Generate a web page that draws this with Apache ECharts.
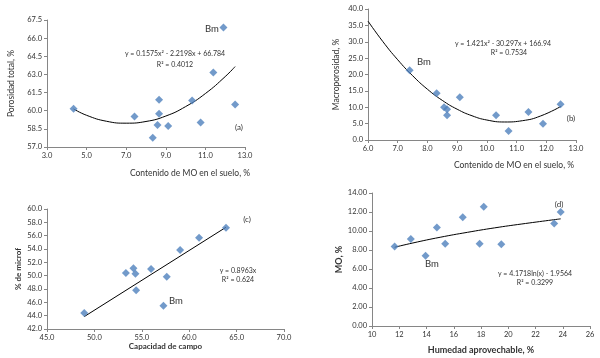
<!DOCTYPE html>
<html>
<head>
<meta charset="utf-8">
<script src="https://cdn.jsdelivr.net/npm/echarts@6/dist/echarts.min.js"></script>
<style>
html,body{margin:0;padding:0;background:#fff;}
#c{width:600px;height:358px;}
</style>
</head>
<body>
<div id="c"></div>
<script>
// Panel (a): Porosidad total vs MO
const aX = [4.34, 7.42, 8.34, 8.58, 8.66, 8.66, 9.12, 10.33, 10.76, 11.40, 11.91, 12.50];
const aY = [60.16, 59.53, 57.77, 58.81, 59.75, 60.90, 58.73, 60.85, 59.03, 63.15, 66.89, 60.52];
const aTrendX = [4.34, 5.0, 6.0, 7.0, 8.0, 9.0, 10.0, 11.0, 12.0, 12.5];
const aTrendY = [60.15, 59.62, 59.13, 58.97, 59.11, 59.56, 60.34, 61.42, 62.82, 63.65];

// Panel (b): Macroporosidad vs MO
const bX = [7.40, 8.31, 8.56, 8.66, 8.66, 9.09, 10.31, 10.73, 11.40, 11.89, 12.48];
const bY = [21.3, 14.3, 10.0, 9.4, 7.55, 13.06, 7.55, 2.76, 8.57, 5.0, 10.9];
const bTrendX = [6.0, 6.5, 7.0, 7.5, 8.0, 8.5, 9.0, 9.5, 10.0, 10.6, 11.2, 11.8, 12.5];
const bTrendY = [36.3, 30.05, 24.5, 19.65, 15.5, 12.1, 9.4, 7.4, 6.1, 5.5, 5.9, 7.3, 10.3];

// Panel (c): % de microf vs Capacidad de campo
const cX = [48.93, 53.32, 54.12, 54.33, 54.40, 55.98, 57.28, 57.63, 59.04, 61.04, 63.88];
const cY = [44.4, 50.4, 51.1, 50.3, 47.8, 51.0, 45.5, 49.85, 53.85, 55.7, 57.2];
const cTrendX = [48.93, 63.88];
const cTrendY = [43.86, 57.26];

// Panel (d): MO vs Humedad aprovechable
const dX = [11.66, 12.85, 13.93, 14.76, 15.37, 16.66, 17.90, 18.20, 19.49, 23.37, 23.85];
const dY = [8.36, 9.17, 7.40, 10.37, 8.67, 11.46, 8.67, 12.55, 8.60, 10.79, 11.99];
const dTrendX = [11.66, 13.0, 15.0, 17.0, 19.0, 21.0, 23.85];
const dTrendY = [8.29, 8.74, 9.34, 9.86, 10.33, 10.74, 11.28];

// Axis ranges / tick steps
const aXAxis = {min: 3, max: 13, step: 2, dec: 1};
const aYAxis = {min: 57, max: 67.5, step: 1.5, dec: 1};
const bXAxis = {min: 6, max: 13, step: 1, dec: 1};
const bYAxis = {min: 0, max: 40, step: 5, dec: 1};
const cXAxis = {min: 45, max: 70, step: 5, dec: 1};
const cYAxis = {min: 42, max: 60, step: 2, dec: 1};
const dXAxis = {min: 10, max: 26, step: 2, dec: 0};
const dYAxis = {min: 0, max: 14, step: 2, dec: 2};

const FONT = 'Lato, "Liberation Sans", sans-serif';
const TXT = '#333333';
const AXC = '#868686';
const BLUE = '#4F81BD';

function zip(xs, ys){ return xs.map((x,i)=>[x, ys[i]]); }

function mkAxis(type, gi, r, name, opts){
  return Object.assign({
    type: 'value', gridIndex: gi, min: r.min, max: r.max, interval: r.step,
    name: name, nameLocation: 'middle',
    axisLine: {show: true, onZero: false, lineStyle: {color: AXC, width: 1}},
    axisTick: {show: true, inside: false, length: 3, lineStyle: {color: AXC}},
    splitLine: {show: false},
    axisLabel: {fontFamily: FONT, fontSize: 7.5, color: TXT,
      formatter: v => v.toFixed(r.dec), margin: type === 'x' ? 5 : 5},
    nameTextStyle: {fontFamily: FONT, fontSize: 8.5, color: TXT}
  }, opts || {});
}

const grids = [
  {left: 47, top: 20, width: 198, height: 127},
  {left: 368, top: 9, width: 208, height: 131},
  {left: 47, top: 209, width: 237, height: 120},
  {left: 372, top: 193, width: 218, height: 133}
];

const xAxes = [
  mkAxis('x', 0, aXAxis, 'Contenido de MO en el suelo, %', {nameGap: 22,
    nameTextStyle: {fontFamily: FONT, fontSize: 8.5, color: TXT, padding: [0,0,0,88]}}),
  mkAxis('x', 1, bXAxis, 'Contenido de MO en el suelo, %', {nameGap: 21,
    nameTextStyle: {fontFamily: FONT, fontSize: 8.5, color: TXT, padding: [0,0,0,84]}}),
  mkAxis('x', 2, cXAxis, 'Capacidad de campo', {nameGap: 12,
    nameTextStyle: {fontFamily: FONT, fontSize: 8, fontWeight: 'bold', color: TXT}}),
  mkAxis('x', 3, dXAxis, 'Humedad aprovechable, %', {nameGap: 20,
    nameTextStyle: {fontFamily: FONT, fontSize: 9, fontWeight: 'bold', color: TXT}})
];
const yAxes = [
  mkAxis('y', 0, aYAxis, 'Porosidad total, %', {nameGap: 31}),
  mkAxis('y', 1, bYAxis, 'Macroporosidad, %', {nameGap: 27}),
  mkAxis('y', 2, cYAxis, '% de microf', {nameGap: 25,
    nameTextStyle: {fontFamily: FONT, fontSize: 8, fontWeight: 'bold', color: TXT}}),
  mkAxis('y', 3, dYAxis, 'MO, %', {nameGap: 28,
    nameTextStyle: {fontFamily: FONT, fontSize: 9, fontWeight: 'bold', color: TXT}})
];

function scatter(i, xs, ys){
  return {type: 'scatter', xAxisIndex: i, yAxisIndex: i, data: zip(xs, ys),
    symbol: 'diamond', symbolSize: 8, itemStyle: {color: BLUE}, z: 3};
}
function trend(i, xs, ys, smooth){
  return {type: 'line', xAxisIndex: i, yAxisIndex: i, data: zip(xs, ys),
    showSymbol: false, smooth: smooth ? 0.5 : false, lineStyle: {color: '#000', width: 1}, z: 2,
    silent: true};
}

function txt(t, x, y, size, align){
  return {type: 'text', left: null, x: x, y: y, silent: true,
    style: {text: t, fill: TXT, font: size + 'px ' + FONT, textAlign: align || 'center', textVerticalAlign: 'middle'}};
}

const option = {
  backgroundColor: '#fff',
  animation: false,
  grid: grids,
  xAxis: xAxes,
  yAxis: yAxes,
  series: [
    trend(0, aTrendX, aTrendY, true), scatter(0, aX, aY),
    trend(1, bTrendX, bTrendY, true), scatter(1, bX, bY),
    trend(2, cTrendX, cTrendY, false), scatter(2, cX, cY),
    trend(3, dTrendX, dTrendY, true), scatter(3, dX, dY)
  ],
  graphic: [
    txt('y = 0.1575x\u00b2 - 2.2198x + 66.784', 175, 54, 7),
    txt('R\u00b2 = 0.4012', 175, 65, 7),
    txt('Bm', 212, 29, 9.5),
    txt('(a)', 239, 127, 8),
    txt('y = 1.421x\u00b2 - 30.297x + 166.94', 503, 44, 7),
    txt('R\u00b2 = 0.7534', 509, 53, 7),
    txt('Bm', 424, 62, 9.5),
    txt('(b)', 571, 118, 8),
    txt('y = 0.8963x', 238, 271, 7),
    txt('R\u00b2 = 0.624', 238, 280, 7),
    txt('Bm', 176, 301, 9.5),
    txt('(c)', 247, 219, 8),
    txt('y = 4.1718ln(x) - 1.9564', 535, 274, 7),
    txt('R\u00b2 = 0.3299', 535, 283, 7),
    txt('Bm', 432, 264, 9.5),
    txt('(d)', 559, 204, 8)
  ]
};

const chart = echarts.init(document.getElementById('c'), null, {renderer: 'canvas'});
chart.setOption(option);
</script>
</body>
</html>
